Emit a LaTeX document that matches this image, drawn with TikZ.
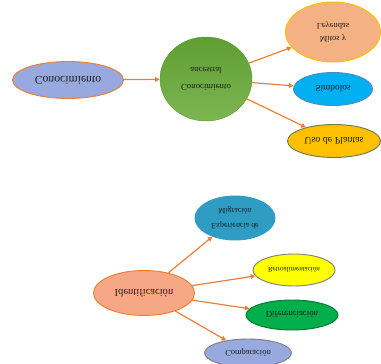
\documentclass[tikz,border=0pt]{standalone}
\usepackage{fontspec}
\setmainfont{Liberation Serif}
\usepackage{xcolor}
\usepackage{tikz}
\usetikzlibrary{
  arrows.meta,
  shapes.geometric
}
\definecolor{LinkOrange}{HTML}{ED7D31}
\definecolor{LavBlue}{HTML}{97A9DE}
\definecolor{LeafDark}{HTML}{5E9E32}
\definecolor{LeafLight}{HTML}{7DB652}
\definecolor{Peach}{HTML}{F4B183}
\definecolor{Gold}{HTML}{FFC000}
\definecolor{Sky}{HTML}{00B0F0}
\definecolor{SkyEdge}{HTML}{4A8CC8}
\definecolor{OliveEdge}{HTML}{6F7A4A}
\definecolor{Teal}{HTML}{2F9CC4}
\definecolor{Lemon}{HTML}{FFFF00}
\definecolor{Grass}{HTML}{00AE4C}
\definecolor{Salmon}{HTML}{F6A886}
\definecolor{TextDark}{HTML}{1E1E1E}

\tikzset{
  bubble/.style={ellipse,draw,line width=0.8pt,inner sep=0pt,align=center,
    text=TextDark,yscale=-1},
  link/.style={draw=LinkOrange,line width=1pt,
    -{Triangle[length=4pt,width=4pt]}}
}

\begin{document}
\begin{tikzpicture}[x=0.03cm,y=-0.03cm]
  \useasboundingbox (0,0) rectangle (381,364);
  % upper group
  \node[bubble,fill=LavBlue,draw=LinkOrange,minimum width=3.33cm,minimum height=1.11cm,
        font=\fontsize{10}{11}\selectfont] (conoc) at (68,80) {Conocimiento};
  \node[bubble,top color=LeafDark,bottom color=LeafLight,draw=LeafDark,line width=0.4pt,
        minimum width=2.76cm,minimum height=2.52cm,
        font=\fontsize{7.5}{14}\selectfont] (ancestral) at (206,79) {Conocimiento\\ancestral};
  \node[bubble,fill=Peach,draw=Gold,minimum width=2.85cm,minimum height=1.8cm,
        font=\fontsize{7.2}{11}\selectfont] (mitos) at (333,32) {Mitos y\\Leyendas};
  \node[bubble,fill=Sky,draw=SkyEdge,minimum width=2.37cm,minimum height=0.99cm,
        font=\fontsize{8}{9}\selectfont] (simb) at (333,89) {Símbolos};
  \node[bubble,fill=Gold,draw=OliveEdge,minimum width=2.79cm,minimum height=0.99cm,
        font=\fontsize{8.5}{9}\selectfont] (plantas) at (334,141) {Uso de Plantas};
  % lower group
  \node[bubble,fill=Teal,draw=Teal,minimum width=2.4cm,minimum height=1.32cm,
        font=\fontsize{6.8}{12.5}\selectfont] (migra) at (235,218) {Experiencia de\\Migración};
  \node[bubble,fill=Lemon,draw=gray,minimum width=2.46cm,minimum height=0.96cm,
        font=\fontsize{6}{7}\selectfont] (retro) at (294,270) {Retroalimentación};
  \node[bubble,fill=Grass,draw=Grass!70!black,minimum width=2.76cm,minimum height=0.9cm,
        font=\fontsize{7.5}{9}\selectfont] (difer) at (292,315) {Diferenciación};
  \node[bubble,fill=Salmon,draw=LinkOrange,minimum width=3.03cm,minimum height=1.35cm,
        font=\fontsize{9}{10}\selectfont] (ident) at (144,293) {Identificación};
  \node[bubble,fill=LavBlue,draw=gray,minimum width=2.61cm,minimum height=0.84cm,
        font=\fontsize{7.2}{9}\selectfont] (compar) at (248,353) {Comparación};
  % connectors
  \draw[link] (conoc) -- (ancestral);
  \draw[link] (ancestral) -- (mitos);
  \draw[link] (ancestral) -- (simb);
  \draw[link] (ancestral) -- (plantas);
  \draw[link] (ident) -- (migra);
  \draw[link] (ident) -- (retro);
  \draw[link] (ident) -- (difer);
  \draw[link] (ident) -- (compar);
\end{tikzpicture}
\end{document}
